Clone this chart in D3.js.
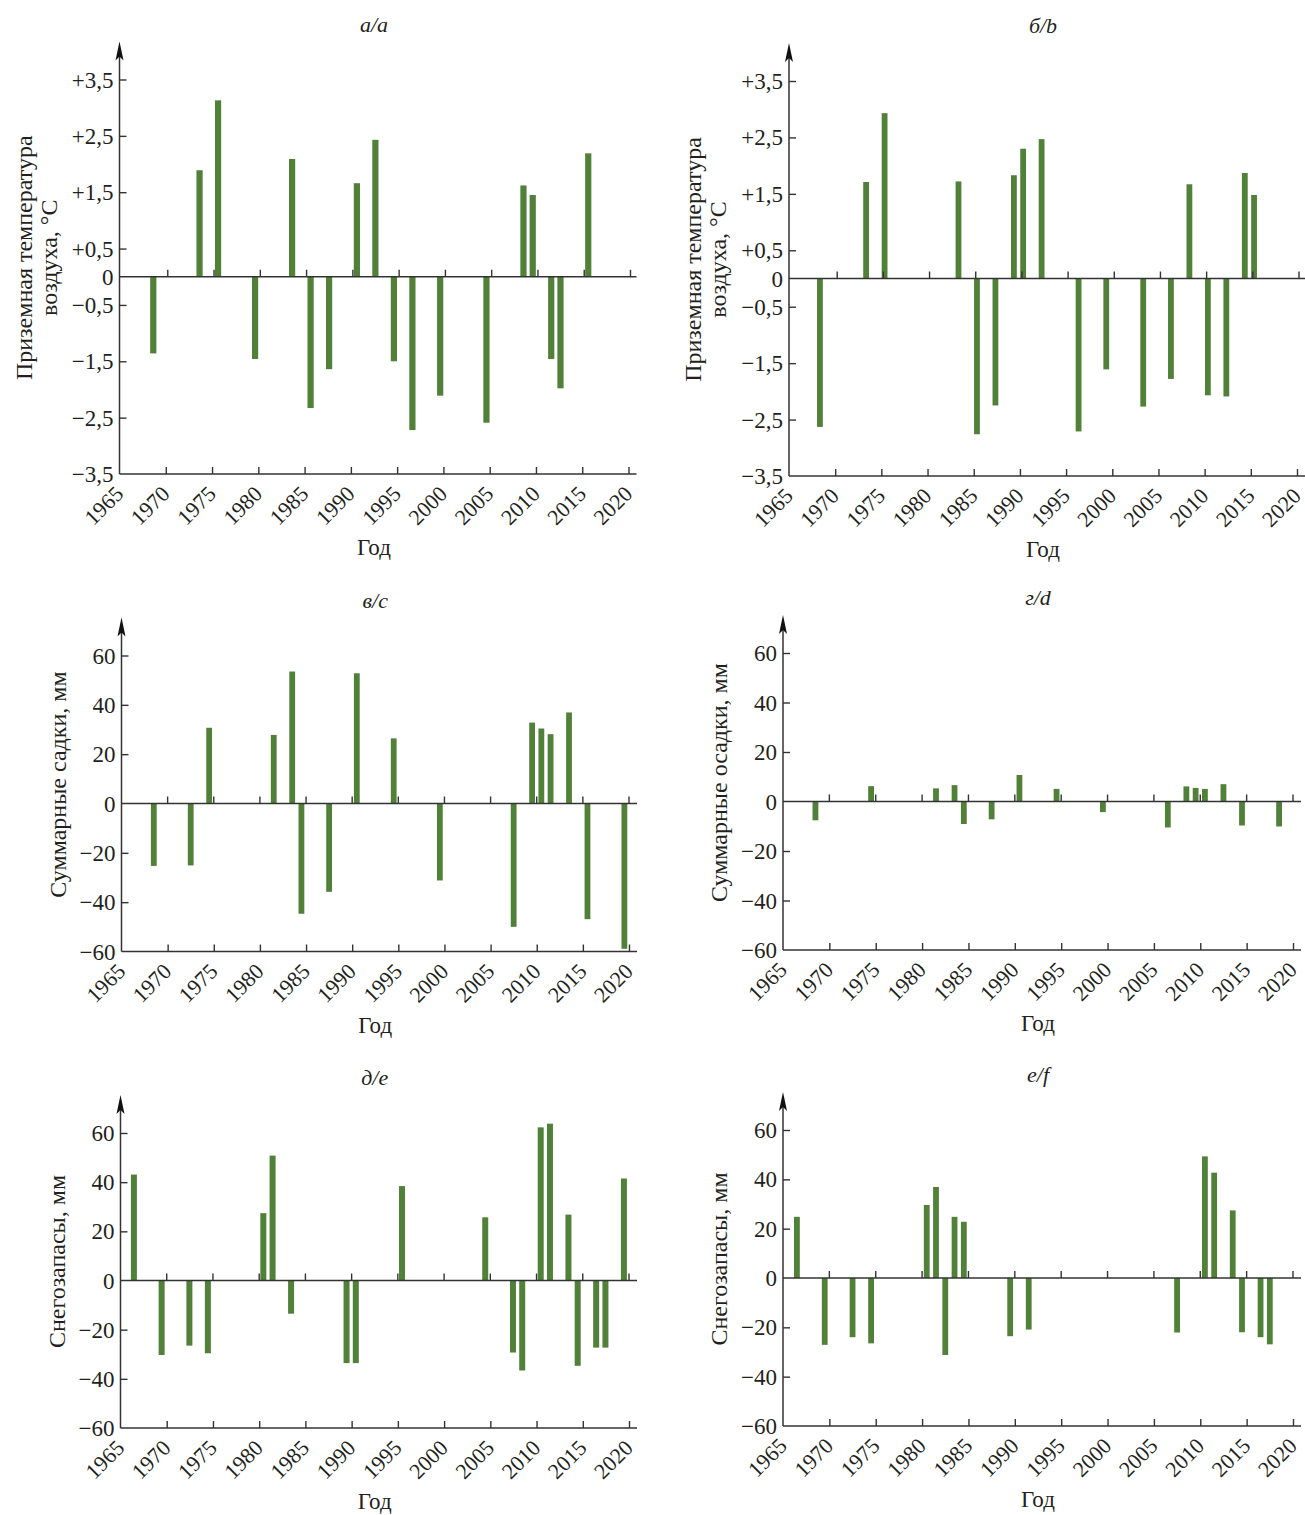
<!DOCTYPE html>
<html><head><meta charset="utf-8">
<script src="https://cdn.jsdelivr.net/npm/d3@7"></script>
<style>
body{margin:0;background:#fff}
svg{display:block;background:#fff}
text{font-family:"Liberation Serif","Times New Roman",serif;fill:#231f20}
</style>
</head><body>
<svg id="chart" width="1305" height="1515"></svg>
<script>
// ---------- DATA ----------
const yearTicks = [1965,1970,1975,1980,1985,1990,1995,2000,2005,2010,2015,2020];
const tempTicks = [3.5,2.5,1.5,0.5,0,-0.5,-1.5,-2.5,-3.5];
const tempTickLabels = ["+3,5","+2,5","+1,5","+0,5","0","\u22120,5","\u22121,5","\u22122,5","\u22123,5"];
const mmTicks = [60,40,20,0,-20,-40,-60];
const mmTickLabels = ["60","40","20","0","\u221220","\u221240","\u221260"];

const yearsA = [1969,1974,1976,1980,1984,1986,1988,1991,1993,1995,1997,2000,2005,2009,2010,2012,2013,2016];
const valuesA = [-1.36,1.89,3.13,-1.46,2.09,-2.33,-1.64,1.66,2.43,-1.50,-2.72,-2.11,-2.59,1.62,1.45,-1.46,-1.98,2.19];

const yearsB = [1969,1974,1976,1984,1986,1988,1990,1991,1993,1997,2000,2004,2007,2009,2011,2013,2015,2016];
const valuesB = [-2.63,1.71,2.93,1.72,-2.76,-2.25,1.83,2.30,2.47,-2.71,-1.61,-2.27,-1.78,1.67,-2.07,-2.09,1.87,1.48];

const yearsC = [1969,1973,1975,1982,1984,1985,1988,1991,1995,2000,2008,2010,2011,2012,2014,2016,2020];
const valuesC = [-25.3,-25.1,30.7,27.8,53.5,-44.7,-35.8,52.8,26.4,-31.2,-50.0,32.8,30.4,28.1,36.9,-46.9,-58.9];

const yearsD = [1969,1975,1982,1984,1985,1988,1991,1995,2000,2007,2009,2010,2011,2013,2015,2019];
const valuesD = [-7.6,6.2,5.3,6.6,-9.1,-7.2,10.7,5.1,-4.3,-10.5,6.1,5.5,5.1,7.0,-9.7,-10.1];

const yearsE = [1967,1970,1973,1975,1981,1982,1984,1990,1991,1996,2005,2008,2009,2011,2012,2014,2015,2017,2018,2020];
const valuesE = [43.1,-30.3,-26.5,-29.6,27.4,50.8,-13.5,-33.6,-33.6,38.4,25.7,-29.3,-36.6,62.3,63.8,26.8,-34.7,-27.3,-27.3,41.5];

const yearsF = [1967,1970,1973,1975,1981,1982,1983,1984,1985,1990,1992,2008,2011,2012,2014,2015,2017,2018];
const valuesF = [24.8,-27.1,-24.0,-26.5,29.6,36.9,-31.2,24.8,22.8,-23.6,-20.9,-22.1,49.3,42.7,27.4,-22.0,-24.0,-26.9];

const titles = ["а/a","б/b","в/c","г/d","д/e","е/f"];
const yLabels = [
  ["Приземная температура","воздуха, °C"],
  ["Приземная температура","воздуха, °C"],
  ["Суммарные садки, мм"],
  ["Суммарные осадки, мм"],
  ["Снегозапасы, мм"],
  ["Снегозапасы, мм"]
];
const xLabel = "Год";

// ---------- LAYOUT (style only) ----------
const layout = [
  {x0:119.5, x1:628.5, yTop:79.5, yBot:474, barOff:0.35, bw:6.2},
  {x0:789,   x1:1297,  yTop:81,   yBot:476, barOff:0.65, bw:5.8},
  {x0:121.5, x1:629,   yTop:655.5,yBot:951.5, barOff:0.5, bw:5.8},
  {x0:783,   x1:1293,  yTop:653,  yBot:950, barOff:0.5, bw:5.8},
  {x0:120.5, x1:629,   yTop:1133, yBot:1428, barOff:0.55, bw:6.0},
  {x0:783,   x1:1293,  yTop:1130, yBot:1426, barOff:0.5, bw:5.8}
];
const panelData = [
  {years:yearsA, values:valuesA, ticks:tempTicks, tickLabels:tempTickLabels, dom:[-3.5,3.5]},
  {years:yearsB, values:valuesB, ticks:tempTicks, tickLabels:tempTickLabels, dom:[-3.5,3.5]},
  {years:yearsC, values:valuesC, ticks:mmTicks, tickLabels:mmTickLabels, dom:[-60,60]},
  {years:yearsD, values:valuesD, ticks:mmTicks, tickLabels:mmTickLabels, dom:[-60,60]},
  {years:yearsE, values:valuesE, ticks:mmTicks, tickLabels:mmTickLabels, dom:[-60,60]},
  {years:yearsF, values:valuesF, ticks:mmTicks, tickLabels:mmTickLabels, dom:[-60,60]}
];

const AX = "#333333";
const BAR = "#518039";
const svg = d3.select("#chart");

panelData.forEach((pd, i) => {
  const L = layout[i];
  const g = svg.append("g");
  const x = d3.scaleLinear().domain([1965, 2020]).range([L.x0, L.x1]);
  const y = d3.scaleLinear().domain(pd.dom).range([L.yBot, L.yTop]);
  const y0 = y(0);
  const tip = L.yTop - 38;
  const xEnd = Math.min(L.x1 + 8, 1305);
  const midX = (L.x0 + L.x1) / 2;

  // bars
  g.selectAll("rect.bar").data(pd.years.map((yr, k) => ({yr, v: pd.values[k]})))
    .join("rect").attr("class","bar")
    .attr("x", d => x(d.yr - L.barOff) - L.bw/2)
    .attr("width", L.bw)
    .attr("y", d => Math.min(y(d.v), y0))
    .attr("height", d => Math.abs(y(d.v) - y0))
    .attr("fill", BAR);

  // zero line with ticks
  g.append("line").attr("x1", L.x0).attr("x2", xEnd).attr("y1", y0).attr("y2", y0)
    .attr("stroke", AX).attr("stroke-width", 1.4);
  g.selectAll("line.zt").data(yearTicks.slice(1)).join("line").attr("class","zt")
    .attr("x1", d => x(d) + (i < 2 ? 2 : 0)).attr("x2", d => x(d) + (i < 2 ? 2 : 0))
    .attr("y1", y0).attr("y2", y0 - 7).attr("stroke", AX).attr("stroke-width", 1.4);

  // bottom axis
  const xAxis = d3.axisBottom(x).tickValues(yearTicks).tickSize(-7).tickFormat("");
  const gx = g.append("g").attr("transform", `translate(0,${L.yBot})`).call(xAxis);
  gx.select(".domain").attr("d", `M${L.x0},0H${xEnd}`).attr("stroke", AX).attr("stroke-width", 1.5);
  gx.selectAll(".tick line").attr("stroke", AX).attr("stroke-width", 1.4);
  gx.selectAll(".tick").filter(d => d === 1965).select("line").remove();

  // rotated year labels
  g.selectAll("text.yr").data(yearTicks).join("text").attr("class","yr")
    .attr("transform", d => `translate(${x(d) - 6},${L.yBot + 10}) rotate(-45)`)
    .attr("text-anchor", "end").attr("dy", "0.72em")
    .style("font-size", "22px").text(d => d);

  // y axis
  const yAxis = d3.axisLeft(y).tickValues(pd.ticks).tickSize(-7).tickFormat("");
  const gy = g.append("g").attr("transform", `translate(${L.x0},0)`).call(yAxis);
  gy.select(".domain").attr("d", `M0,${tip + 10}V${L.yBot}`).attr("stroke", AX).attr("stroke-width", 1.5);
  gy.selectAll(".tick line").attr("stroke", AX).attr("stroke-width", 1.4);
  gy.selectAll(".tick").filter(d => d === 0 || d === pd.dom[0]).select("line").remove();
  g.selectAll("text.yt").data(pd.ticks).join("text").attr("class","yt")
    .attr("x", L.x0 - 6).attr("y", d => y(d)).attr("dy", "0.35em")
    .attr("text-anchor", "end").style("font-size", "23px")
    .text((d, k) => pd.tickLabels[k]);

  // arrow
  g.append("path")
    .attr("d", `M${L.x0},${tip} L${L.x0 - 4},${tip + 19} L${L.x0},${tip + 15} L${L.x0 + 4},${tip + 19} Z`)
    .attr("fill", "#111");

  // title
  g.append("text").attr("x", midX).attr("y", tip - 10).attr("text-anchor", "middle")
    .style("font-size", "22px").style("font-style", "italic").text(titles[i]);

  // x label
  g.append("text").attr("x", midX).attr("y", L.yBot + 81).attr("text-anchor", "middle")
    .style("font-size", "23px").text(xLabel);

  // y label
  const lines = yLabels[i];
  const cy = (tip + L.yBot) / 2;
  lines.forEach((ln, k) => {
    const bx = lines.length === 2 ? L.x0 - 88 + k * 25 : L.x0 - 56;
    g.append("text").attr("transform", `translate(${bx},${cy}) rotate(-90)`)
      .attr("text-anchor", "middle").style("font-size", "24px").text(ln);
  });
});
</script>
</body></html>
